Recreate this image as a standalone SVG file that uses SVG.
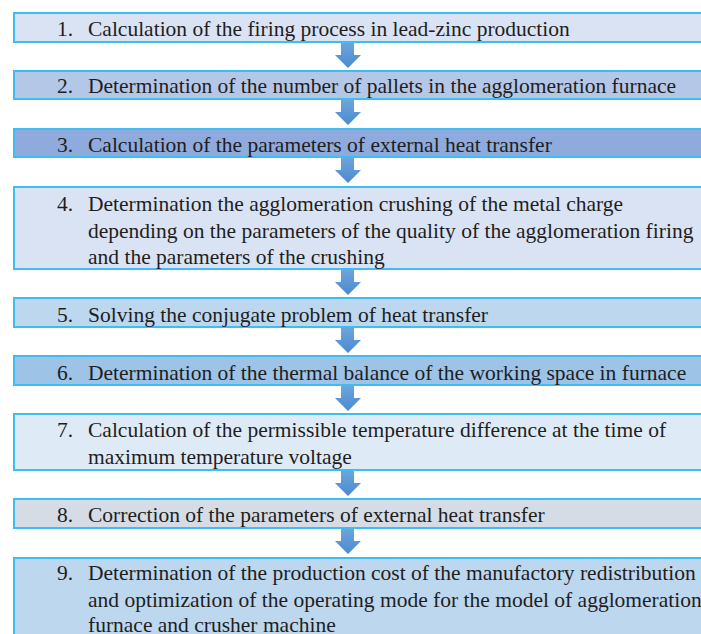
<svg xmlns="http://www.w3.org/2000/svg" width="701" height="634" viewBox="0 0 701 634">
<style>
.box{stroke:#3dbdf0;stroke-width:2}
.t{font-family:'Liberation Serif','Times New Roman',Tinos,'DejaVu Serif',serif;font-size:21.5px;fill:#1e1e1e}
.arr{fill:url(#ag)}
</style>
<defs>
<linearGradient id="ag" x1="0" y1="0" x2="0" y2="1">
<stop offset="0" stop-color="#6ea6dc"/>
<stop offset="1" stop-color="#4a8ad0"/>
</linearGradient>
</defs>
<rect width="701" height="634" fill="#ffffff"/>
<g id="connectors">
<path class="arr" d="M341,42 H354 V55 H361 L348,68 L335,55 H341 Z"/>
<path class="arr" d="M341,99 H354 V112 H361 L348,125 L335,112 H341 Z"/>
<path class="arr" d="M341,157 H354 V170 H361 L348,183 L335,170 H341 Z"/>
<path class="arr" d="M341,269 H354 V282 H361 L348,295 L335,282 H341 Z"/>
<path class="arr" d="M341,327 H354 V340 H361 L348,353 L335,340 H341 Z"/>
<path class="arr" d="M341,385 H354 V398 H361 L348,411 L335,398 H341 Z"/>
<path class="arr" d="M341,470 H354 V483 H361 L348,496 L335,483 H341 Z"/>
<path class="arr" d="M341,528 H354 V541 H361 L348,554 L335,541 H341 Z"/>
</g>
<g id="node1">
<rect class="box" x="14" y="13" width="710" height="29" fill="#dae3f3"/>
<text class="t" x="57" y="36">1.</text>
<text class="t" x="88" y="36">Calculation of the firing process in lead-zinc production</text>
</g>
<g id="node2">
<rect class="box" x="14" y="71" width="710" height="28" fill="#b4c7e7"/>
<text class="t" x="57" y="93">2.</text>
<text class="t" x="88" y="93">Determination of the number of pallets in the agglomeration furnace</text>
</g>
<g id="node3">
<rect class="box" x="14" y="129" width="710" height="28" fill="#8faadc"/>
<text class="t" x="57" y="152">3.</text>
<text class="t" x="88" y="152">Calculation of the parameters of external heat transfer</text>
</g>
<g id="node4">
<rect class="box" x="14" y="187" width="710" height="82" fill="#dae3f3"/>
<text class="t" x="57" y="211">4.</text>
<text class="t" x="88" y="211">Determination the agglomeration crushing of the metal charge</text>
<text class="t" x="88" y="237.5">depending on the parameters of the quality of the agglomeration firing</text>
<text class="t" x="88" y="264">and the parameters of the crushing</text>
</g>
<g id="node5">
<rect class="box" x="14" y="298" width="710" height="29" fill="#bdd7ee"/>
<text class="t" x="57" y="322">5.</text>
<text class="t" x="88" y="322">Solving the conjugate problem of heat transfer</text>
</g>
<g id="node6">
<rect class="box" x="14" y="356" width="710" height="29" fill="#9dc3e6"/>
<text class="t" x="57" y="380">6.</text>
<text class="t" x="88" y="380">Determination of the thermal balance of the working space in furnace</text>
</g>
<g id="node7">
<rect class="box" x="14" y="414" width="710" height="56" fill="#deebf7"/>
<text class="t" x="57" y="437">7.</text>
<text class="t" x="88" y="437">Calculation of the permissible temperature difference at the time of</text>
<text class="t" x="88" y="463.5">maximum temperature voltage</text>
</g>
<g id="node8">
<rect class="box" x="14" y="499" width="710" height="29" fill="#d6dce5"/>
<text class="t" x="57" y="522">8.</text>
<text class="t" x="88" y="522">Correction of the parameters of external heat transfer</text>
</g>
<g id="node9">
<rect class="box" x="14" y="558" width="710" height="90" fill="#bdd7ee"/>
<text class="t" x="57" y="580">9.</text>
<text class="t" x="88" y="580">Determination of the production cost of the manufactory redistribution</text>
<text class="t" x="88" y="606.5">and optimization of the operating mode for the model of agglomeration</text>
<text class="t" x="88" y="632">furnace and crusher machine</text>
</g>
</svg>
